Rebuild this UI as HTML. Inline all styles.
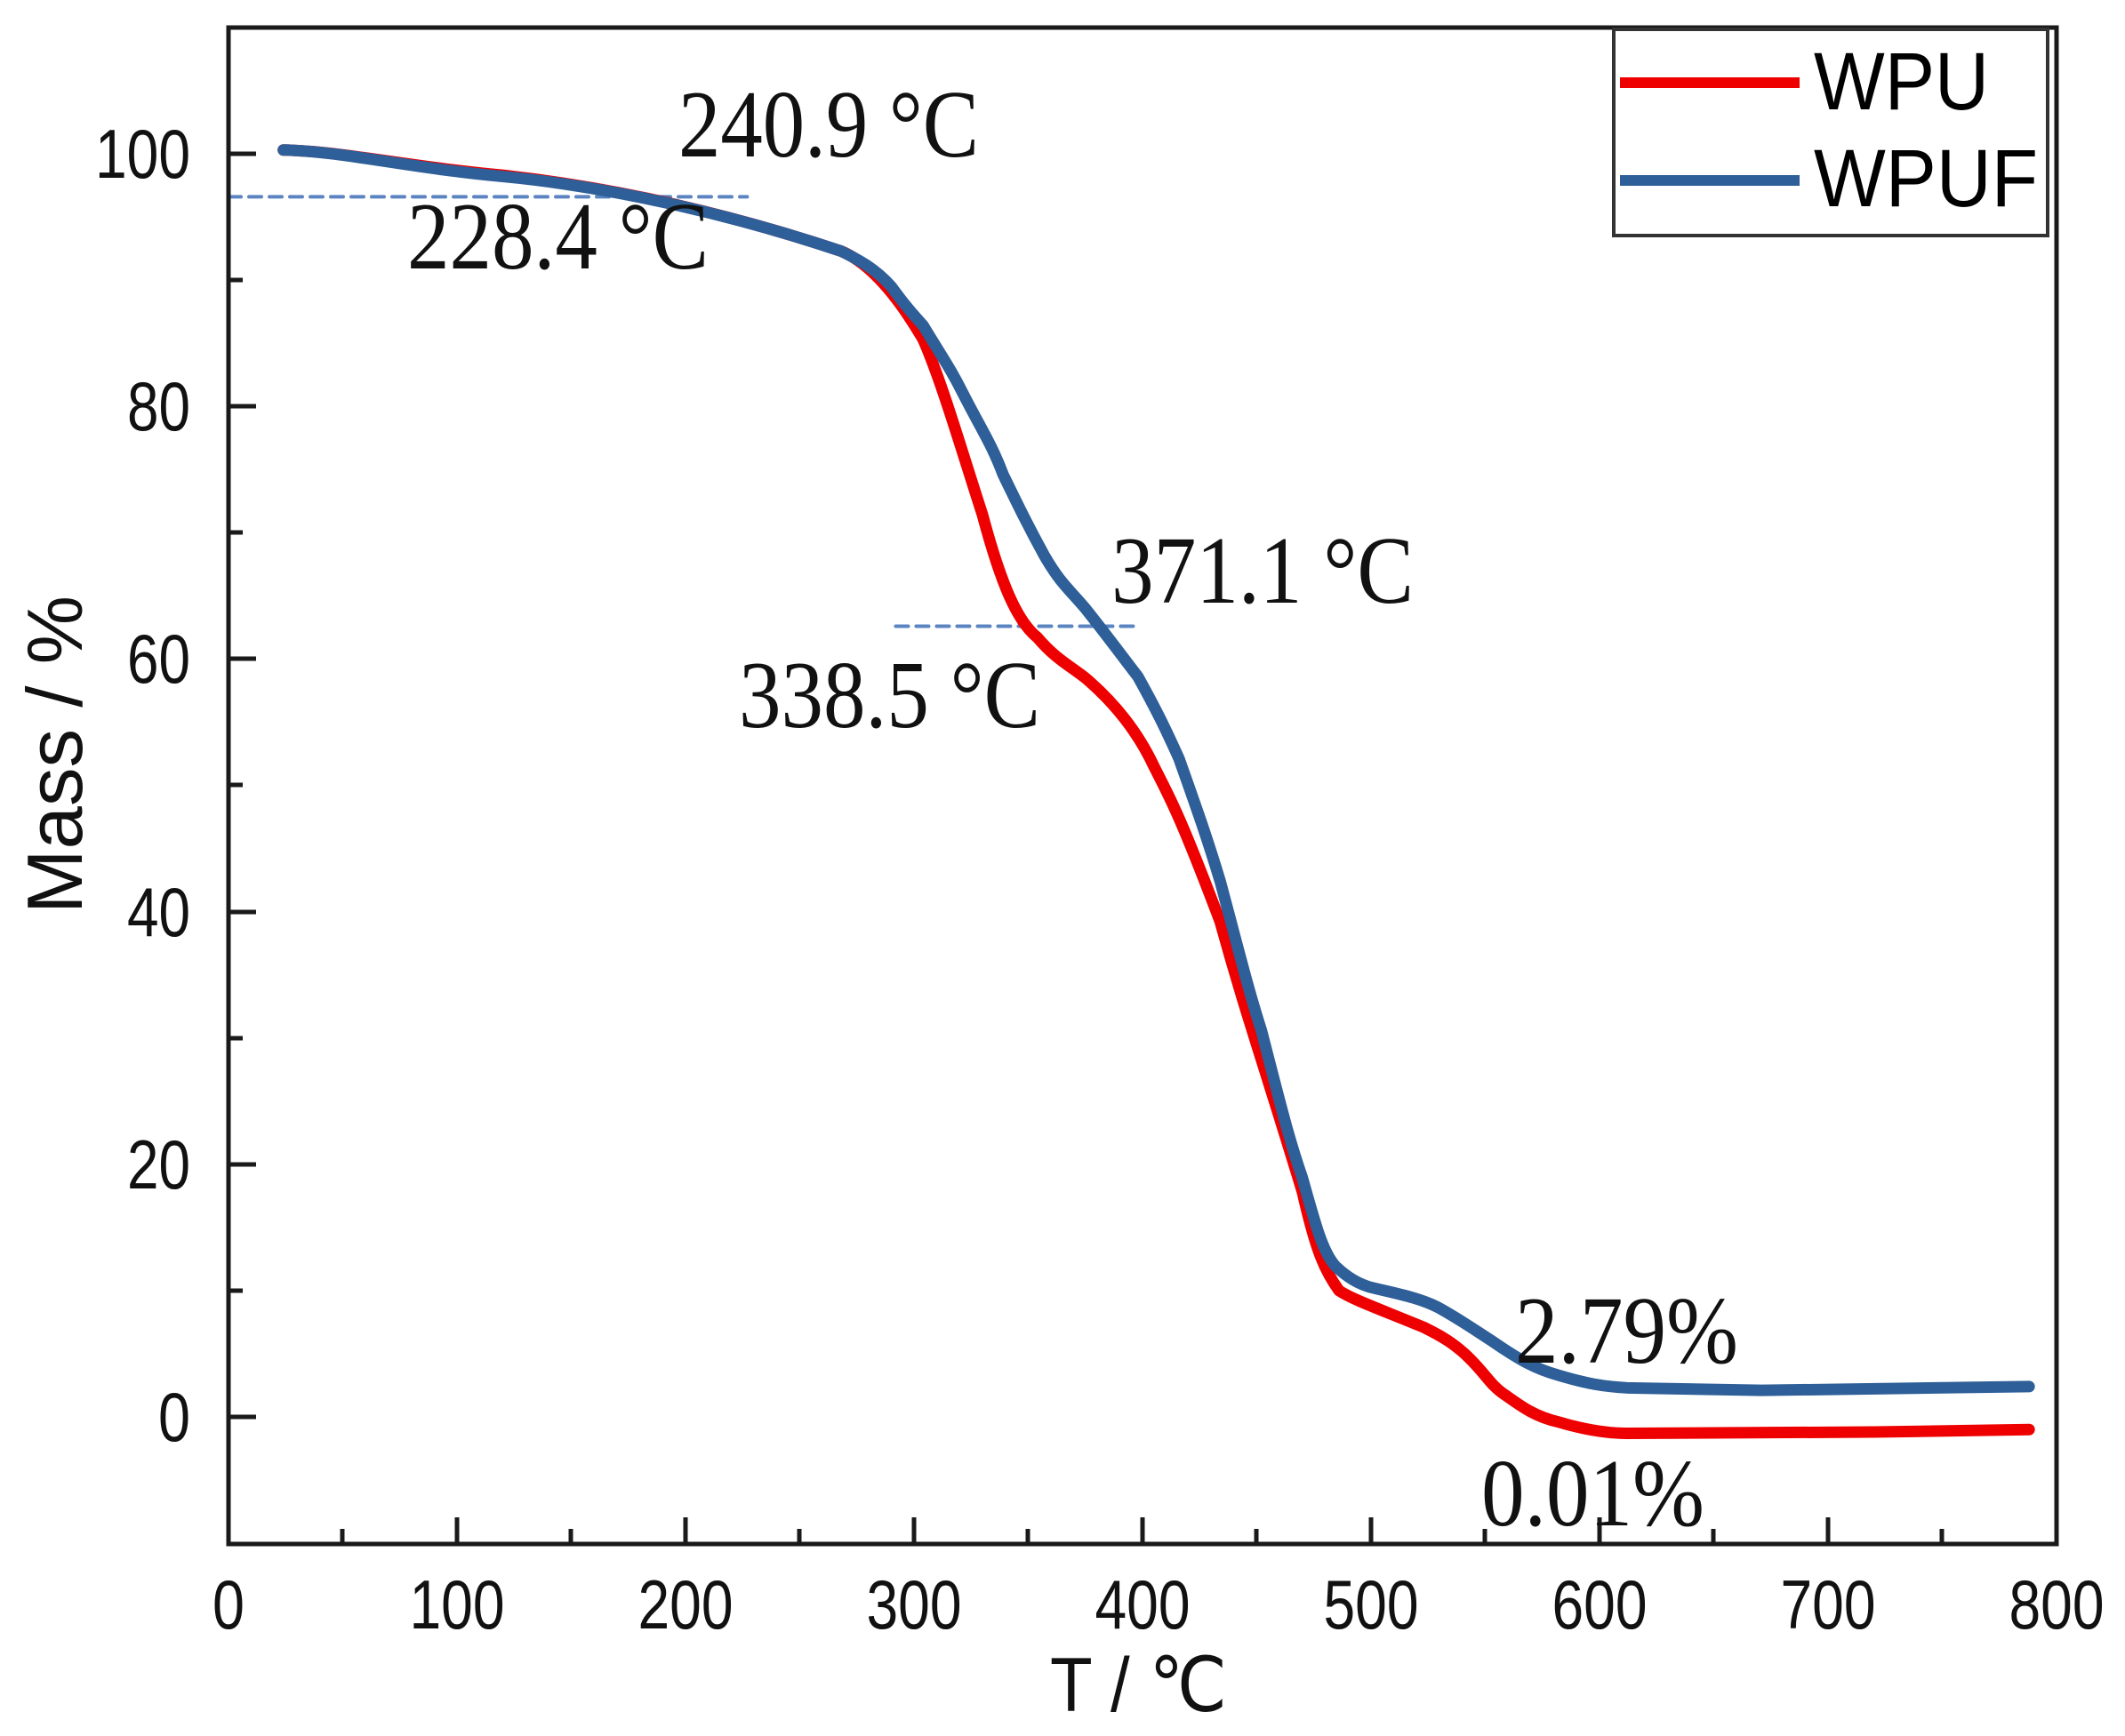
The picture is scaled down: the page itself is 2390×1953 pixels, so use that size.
<!DOCTYPE html>
<html><head><meta charset="utf-8"><style>
html,body{margin:0;padding:0;background:#fff;}
svg{display:block}
</style></head><body>
<svg width="2390" height="1953" xmlns="http://www.w3.org/2000/svg">
<rect width="2390" height="1953" fill="#fff"/>
<g transform="translate(257,1594) scale(2.57,-14.21)" fill="none" stroke-linejoin="round" stroke-linecap="round">
 <path vector-effect="non-scaling-stroke" stroke="#5b85c1" stroke-width="4" stroke-dasharray="14,9" d="M0,96.6 L227,96.6 M292,62.6 L399,62.6"/>
 <path vector-effect="non-scaling-stroke" stroke="#ee0000" stroke-width="13" d="M24,100.3 C50,100.2 78,99 120,98.3 C170,97.3 220,95.2 268,92.3 C280,91.4 292,89 304,85.3 C312,82 320,77 330,71.4 C338,66 345,63 354,61.7 C362,60 368,59.5 375,58.5 C388,56.5 398,54.2 405,51.5 C412,49 416,47.8 434,39.2 C445,32 452,28.5 470,17.8 C476,13 480,11.5 486,10 C492,9.3 500,8.8 523,7.1 C532,6.3 536,5.8 541,5 C550,3.5 552,2.5 559,1.7 C566,0.8 572,0 582,-0.4 C595,-1.1 605,-1.3 612,-1.3 L720,-1.2 L788,-1"/>
 <path vector-effect="non-scaling-stroke" stroke="#2e5f98" stroke-width="13" d="M24,100.3 C50,100.2 78,98.9 120,98.2 C167,97.4 220,95.2 268,92.3 C276,91.6 283,90.9 290,89.5 C296,88 300,87.2 304,86.4 C312,84 316,83 321.5,81 C330,78 334,77 339,74.6 C346,72 350,70.5 357,68.2 C364,66 368,65.5 375,64 C386,61.5 392,60 398,58.6 C406,56 410,54.5 416,52.1 C424,48 428,46 434,42.4 C442,37 446,34 452,30.6 C460,25 464,22 470,18.9 C476,15 479,13 484.6,11.9 C490,11 494,10.6 499,10.3 C510,9.8 520,9.5 529,8.7 C540,7.6 546,6.8 553,6 C565,4.5 572,3.8 582,3.3 C595,2.6 602,2.4 612,2.3 L671,2.1 L788,2.4"/>
</g>
<rect x="257" y="31" width="2056" height="1706" fill="none" stroke="#1a1a1a" stroke-width="5"/>
<g stroke="#1a1a1a" stroke-width="5">
 <line x1="257" y1="173" x2="288" y2="173"/><line x1="257" y1="457" x2="288" y2="457"/><line x1="257" y1="741" x2="288" y2="741"/><line x1="257" y1="1026" x2="288" y2="1026"/><line x1="257" y1="1310" x2="288" y2="1310"/><line x1="257" y1="1594" x2="288" y2="1594"/>
 <line x1="257" y1="315" x2="273" y2="315"/><line x1="257" y1="599" x2="273" y2="599"/><line x1="257" y1="883" x2="273" y2="883"/><line x1="257" y1="1168" x2="273" y2="1168"/><line x1="257" y1="1452" x2="273" y2="1452"/>
 <line x1="514" y1="1737" x2="514" y2="1707"/><line x1="771" y1="1737" x2="771" y2="1707"/><line x1="1028" y1="1737" x2="1028" y2="1707"/><line x1="1285" y1="1737" x2="1285" y2="1707"/><line x1="1542" y1="1737" x2="1542" y2="1707"/><line x1="1799" y1="1737" x2="1799" y2="1707"/><line x1="2056" y1="1737" x2="2056" y2="1707"/>
 <line x1="385" y1="1737" x2="385" y2="1720"/><line x1="642" y1="1737" x2="642" y2="1720"/><line x1="899" y1="1737" x2="899" y2="1720"/><line x1="1156" y1="1737" x2="1156" y2="1720"/><line x1="1413" y1="1737" x2="1413" y2="1720"/><line x1="1670" y1="1737" x2="1670" y2="1720"/><line x1="1927" y1="1737" x2="1927" y2="1720"/><line x1="2184" y1="1737" x2="2184" y2="1720"/>
</g>
<g font-family="Liberation Sans, Arial, sans-serif" font-size="78" fill="#111">
 <g text-anchor="end">
  <text x="214" y="200" textLength="107" lengthAdjust="spacingAndGlyphs">100</text><text x="214" y="484" textLength="71" lengthAdjust="spacingAndGlyphs">80</text><text x="214" y="768" textLength="71" lengthAdjust="spacingAndGlyphs">60</text><text x="214" y="1053" textLength="71" lengthAdjust="spacingAndGlyphs">40</text><text x="214" y="1337" textLength="71" lengthAdjust="spacingAndGlyphs">20</text><text x="214" y="1621" textLength="36" lengthAdjust="spacingAndGlyphs">0</text>
 </g>
 <g text-anchor="middle">
  <text x="257" y="1832" textLength="36" lengthAdjust="spacingAndGlyphs">0</text><text x="514" y="1832" textLength="107" lengthAdjust="spacingAndGlyphs">100</text><text x="771" y="1832" textLength="107" lengthAdjust="spacingAndGlyphs">200</text><text x="1028" y="1832" textLength="107" lengthAdjust="spacingAndGlyphs">300</text><text x="1285" y="1832" textLength="107" lengthAdjust="spacingAndGlyphs">400</text><text x="1542" y="1832" textLength="107" lengthAdjust="spacingAndGlyphs">500</text><text x="1799" y="1832" textLength="107" lengthAdjust="spacingAndGlyphs">600</text><text x="2056" y="1832" textLength="107" lengthAdjust="spacingAndGlyphs">700</text><text x="2313" y="1832" textLength="107" lengthAdjust="spacingAndGlyphs">800</text>
 </g>
 <text transform="translate(92,849) rotate(-90)" text-anchor="middle" font-size="88" textLength="358" lengthAdjust="spacingAndGlyphs">Mass / %</text>
 <text x="1181" y="1925" font-size="86" textLength="199" lengthAdjust="spacingAndGlyphs">T / ℃</text>
</g>
<rect x="1815" y="33" width="488" height="232" fill="#fff" stroke="#333" stroke-width="4"/>
<line x1="1822" y1="93" x2="2024" y2="93" stroke="#ee0000" stroke-width="12"/>
<line x1="1822" y1="203" x2="2024" y2="203" stroke="#2e5f98" stroke-width="12"/>
<g font-family="Liberation Sans, Arial, sans-serif" font-size="92" fill="#000">
 <text x="2040" y="123" textLength="197" lengthAdjust="spacingAndGlyphs">WPU</text>
 <text x="2040" y="232" textLength="252" lengthAdjust="spacingAndGlyphs">WPUF</text>
</g>
<g font-family="Liberation Serif, Times New Roman, serif" font-size="108" fill="#111">
 <text x="763" y="176" textLength="338" lengthAdjust="spacingAndGlyphs">240.9 °C</text>
 <text x="458" y="302" textLength="339" lengthAdjust="spacingAndGlyphs">228.4 °C</text>
 <text x="1250" y="678" textLength="340" lengthAdjust="spacingAndGlyphs">371.1 °C</text>
 <text x="831" y="818" textLength="339" lengthAdjust="spacingAndGlyphs">338.5 °C</text>
 <text x="1704" y="1533" textLength="251" lengthAdjust="spacingAndGlyphs">2.79%</text>
 <text x="1666" y="1716" textLength="251" lengthAdjust="spacingAndGlyphs">0.01%</text>
</g>
</svg>
</body></html>
